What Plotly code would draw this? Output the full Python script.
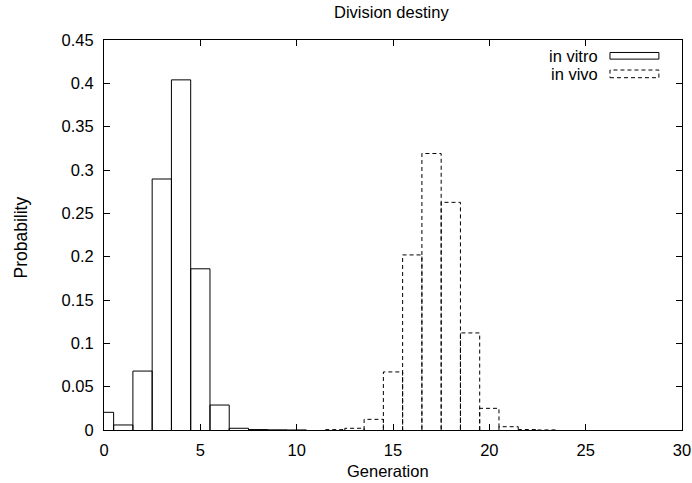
import plotly.graph_objects as go

generations = list(range(0, 31))
in_vitro = [0.0204, 0.0058, 0.068, 0.2896, 0.404, 0.186, 0.0288, 0.002, 0.0005, 0.0002,
            0.0001, 0, 0, 0, 0, 0, 0, 0, 0, 0, 0, 0, 0, 0, 0, 0, 0, 0, 0, 0, 0]
in_vivo = [0, 0, 0, 0, 0, 0, 0, 0, 0, 0, 0, 0, 0.0004, 0.002, 0.0123, 0.067, 0.202, 0.319,
           0.2627, 0.112, 0.025, 0.0038, 0.0005, 0.0001, 0, 0, 0, 0, 0, 0, 0]
series_names = ["in vitro", "in vivo"]


def box_path(xs, ys, width=1.0):
    px, py = [], []
    for x, y in zip(xs, ys):
        if y <= 0:
            continue
        l, r = x - width / 2, x + width / 2
        px += [l, l, r, r, None]
        py += [0, y, y, 0, None]
    return px, py


fig = go.Figure()
vx, vy = box_path(generations, in_vitro)
fig.add_trace(go.Scatter(x=vx, y=vy, mode="lines", line=dict(color="black", width=1),
                         name=series_names[0], showlegend=False, hoverinfo="skip"))
wx, wy = box_path(generations, in_vivo)
fig.add_trace(go.Scatter(x=wx, y=wy, mode="lines", line=dict(color="black", width=1, dash="4px,3px"),
                         name=series_names[1], showlegend=False, hoverinfo="skip"))

font = dict(family="Liberation Sans, Arial, sans-serif", size=16.5, color="black")

# legend (drawn manually, gnuplot style)
fig.add_shape(type="rect", xref="paper", yref="paper", x0=0.8754, x1=0.960, y0=0.951, y1=0.968,
              line=dict(color="black", width=1))
fig.add_shape(type="rect", xref="paper", yref="paper", x0=0.8754, x1=0.960, y0=0.9033, y1=0.923,
              line=dict(color="black", width=1, dash="4px,3px"))
fig.add_annotation(xref="paper", yref="paper", x=0.858, y=0.959, text=series_names[0],
                   showarrow=False, xanchor="right", yanchor="middle", font=font)
fig.add_annotation(xref="paper", yref="paper", x=0.858, y=0.913, text=series_names[1],
                   showarrow=False, xanchor="right", yanchor="middle", font=font)

# titles
fig.add_annotation(xref="paper", yref="paper", x=0.498, y=1.0718, text="Division destiny",
                   showarrow=False, xanchor="center", yanchor="middle", font=font)
fig.add_annotation(xref="paper", yref="paper", x=0.491, y=-0.105, text="Generation",
                   showarrow=False, xanchor="center", yanchor="middle", font=font)
fig.add_annotation(xref="paper", yref="paper", x=-0.1419, y=0.4936, text="Probability",
                   showarrow=False, xanchor="center", yanchor="middle", textangle=-90,
                   font=dict(family=font["family"], size=17.5, color="black"))

fig.update_layout(
    width=692, height=483,
    margin=dict(l=104, r=10, t=40, b=53, autoexpand=False),
    paper_bgcolor="white", plot_bgcolor="white",
    font=font,
    showlegend=False,
    hovermode=False,
)
fig.update_xaxes(range=[0, 30], tickvals=[0, 5, 10, 15, 20, 25, 30], ticks="inside", ticklen=6,
                 showline=True, linecolor="black", linewidth=1, mirror="ticks", showgrid=False,
                 zeroline=False, tickcolor="black", ticklabelstandoff=5, automargin=False,
                 tickfont=font)
fig.update_yaxes(range=[0, 0.45], tickvals=[0, 0.05, 0.1, 0.15, 0.2, 0.25, 0.3, 0.35, 0.4, 0.45],
                 ticktext=["0", "0.05", "0.1", "0.15", "0.2", "0.25", "0.3", "0.35", "0.4", "0.45"],
                 ticks="inside", ticklen=6,
                 showline=True, linecolor="black", linewidth=1, mirror="ticks", showgrid=False,
                 zeroline=False, tickcolor="black", ticklabelstandoff=6, automargin=False,
                 tickfont=font)

fig.write_html("out.html", config={"displayModeBar": False})

# remove the browser's default 8px body margin so the figure fills the window exactly
with open("out.html", "r", encoding="utf-8") as f:
    html = f.read()
html = html.replace("<body>", '<body style="margin:0;padding:0;overflow:hidden">', 1)
with open("out.html", "w", encoding="utf-8") as f:
    f.write(html)
